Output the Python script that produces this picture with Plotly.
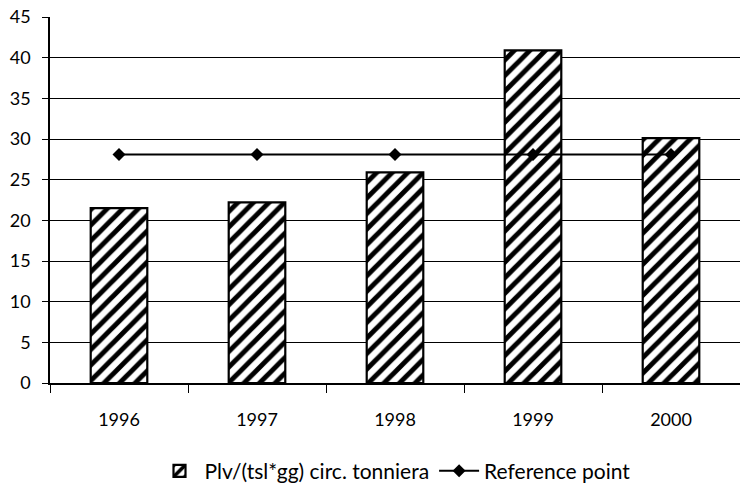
import plotly.graph_objects as go

# Yearly values
years = ["1996", "1997", "1998", "1999", "2000"]
plv_values = [21.5, 22.2, 25.9, 40.9, 30.1]
reference_values = [28.1, 28.1, 28.1, 28.1, 28.1]
y_ticks = [0, 5, 10, 15, 20, 25, 30, 35, 40, 45]

FONT = "Lato, 'Open Sans', sans-serif"

fig = go.Figure()

fig.add_trace(go.Bar(
    x=years,
    y=plv_values,
    name="Plv/(tsl*gg) circ. tonniera",
    width=0.41,
    marker=dict(
        color="white",
        line=dict(color="black", width=2.2),
        pattern=dict(shape="/", fgcolor="black", bgcolor="white",
                     fgopacity=1, size=11, solidity=0.45,
                     fillmode="replace"),
    ),
))

fig.add_trace(go.Scatter(
    x=years,
    y=reference_values,
    name="Reference point",
    mode="lines+markers",
    line=dict(color="black", width=2),
    marker=dict(symbol="diamond", size=10, color="black"),
))

fig.update_layout(
    width=740,
    height=492,
    margin=dict(l=50, r=0, t=17, b=109),
    plot_bgcolor="white",
    paper_bgcolor="white",
    font=dict(family=FONT, size=18, color="black"),
    showlegend=True,
    legend=dict(
        orientation="h",
        x=0.5, xanchor="center",
        y=-0.185, yanchor="top",
        font=dict(family=FONT, size=21, color="black"),
        traceorder="normal",
        itemwidth=40,
    ),
    bargap=0.59,
)

fig.update_xaxes(
    type="category",
    showline=True, linecolor="black", linewidth=1.5,
    ticks="outside", ticklen=8, tickcolor="black",
    tickson="boundaries",
    showgrid=False,
    tickfont=dict(family=FONT, size=18),
    ticklabelstandoff=20,
)

fig.update_yaxes(
    range=[0, 45],
    tickvals=y_ticks,
    showline=True, linecolor="black", linewidth=1.5,
    ticks="outside", ticklen=6, tickcolor="black",
    showgrid=True, gridcolor="black", gridwidth=1,
    zeroline=False,
    tickfont=dict(family=FONT, size=18),
    ticklabelstandoff=8,
)

fig.write_html("out.html")
